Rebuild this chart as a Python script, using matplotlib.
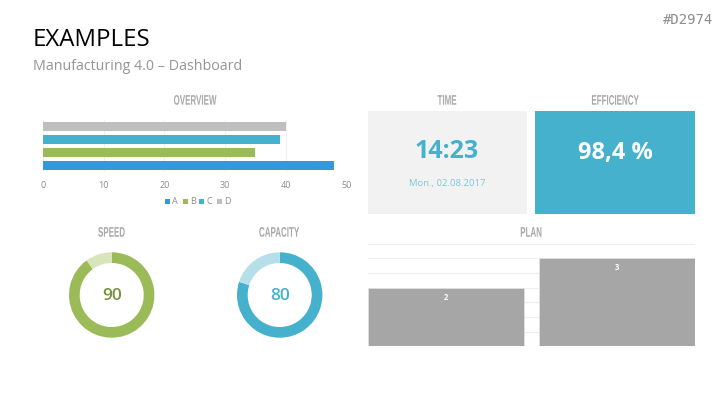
import matplotlib
matplotlib.use("Agg")
import matplotlib.pyplot as plt
from matplotlib.patches import Rectangle
from matplotlib.patheffects import AbstractPathEffect
from matplotlib.transforms import Affine2D

W, H = 727, 409
plt.rcParams['font.family'] = ['Open Sans', 'DejaVu Sans']

overview_labels = ['A', 'B', 'C', 'D']
overview_values = [48, 35, 39, 40]
overview_colors = ['#3498DB', '#9BBB59', '#45B1CD', '#BFBFBF']
overview_ticks = [0, 10, 20, 30, 40, 50]
plan_categories = ['P1', 'P2']
plan_values = [2, 3]
speed_values = [90, 10]
capacity_values = [80, 20]

fig = plt.figure(figsize=(W / 100, H / 100), dpi=100, facecolor='white')
px = Affine2D().scale(1 / W, -1 / H).translate(0, 1) + fig.transFigure


class Squeeze(AbstractPathEffect):
    """Condense a text horizontally around a centre given in pixels."""

    def __init__(self, cx, sx):
        super().__init__()
        self.cx, self.sx = cx, sx

    def draw_path(self, renderer, gc, tpath, affine, rgbFace=None):
        t = affine + Affine2D().translate(-self.cx, 0).scale(self.sx, 1).translate(self.cx, 0)
        renderer.draw_path(gc, tpath, t, rgbFace)


def axes_px(x0, y0, x1, y1):
    return fig.add_axes([x0 / W, 1 - y1 / H, (x1 - x0) / W, (y1 - y0) / H])


def text(x, y, s, **kw):
    kw.setdefault('ha', 'center')
    kw.setdefault('va', 'center')
    return fig.text(x, y, s, transform=px, **kw)


def box(x0, y0, x1, y1, color):
    fig.add_artist(Rectangle((x0, y0), x1 - x0, y1 - y0, transform=px, fc=color, ec='none'))


text(33, 40, 'EXAMPLES', ha='left', fontsize=17.3, color='black')
text(33, 66.5, 'Manufacturing 4.0 – Dashboard', ha='left', fontsize=10.3, color='#959595')
text(713, 20.5, '#D2974', ha='right', fontsize=10, color='#8C8C8C', family=['DejaVu Sans Mono'])

for x, y, s in [(195, 100.7, 'OVERVIEW'), (447, 100.7, 'TIME'), (615, 100.7, 'EFFICIENCY'),
                (111.5, 232.7, 'SPEED'), (279, 232.7, 'CAPACITY'), (531, 232.7, 'PLAN')]:
    t = text(x, y, s, fontsize=10, color='#A8A8A8', fontweight='bold', family=['Liberation Sans'])
    t.set_path_effects([Squeeze(x, 0.575)])

# Overview
ax = axes_px(43, 119.7, 346.5, 172.2)
ax.barh(range(4), overview_values, height=0.69, color=overview_colors, linewidth=0, zorder=3)
ax.set_xlim(0, 50)
ax.set_ylim(-0.5, 3.5)
ax.set_xticks(overview_ticks)
ax.set_yticks([])
ax.grid(axis='x', color='#F0F0F0', lw=0.7, zorder=0)
ax.tick_params(axis='x', length=0, labelsize=6.5, labelcolor='#8C8C8C', pad=6)
for s in ax.spines.values():
    s.set_visible(False)

lx = [167.7, 185.3, 201.7, 219.3]
for x, lab, c in zip(lx, overview_labels, overview_colors):
    box(x - 2.4, 199, x + 2.4, 203.7, c)
    text(x + 4.7, 201.3, lab, ha='left', fontsize=6.5, color='#8C8C8C')

# Time / efficiency
box(367.7, 111, 527, 214, '#F2F2F2')
box(535.3, 111, 695, 214, '#45B1CD')
text(447, 151.5, '14:23', fontsize=18, fontweight='bold', color='#45B1CD')
text(447.5, 183.7, 'Mon., 02.08.2017', fontsize=6.8, color='#7CC8DC')
text(615, 153, '98,4 %', fontsize=17, fontweight='bold', color='white')


# Donuts
def donut(cx, cy, r, values, c1, c2, label, lc):
    a = axes_px(cx - r, cy - r, cx + r, cy + r)
    a.pie(values, colors=[c1, c2], startangle=90, counterclock=False, radius=1,
          wedgeprops=dict(width=0.25, edgecolor='none'))
    a.set_xlim(-1, 1)
    a.set_ylim(-1, 1)
    text(cx, cy + 1, label, fontsize=12.5, fontweight='semibold', color=lc)


donut(111.7, 295, 42.7, speed_values, '#9BBB59', '#D8E4BC', str(speed_values[0]), '#76923C')
donut(279.7, 295, 42.7, capacity_values, '#45B1CD', '#B5E0EA', str(capacity_values[0]), '#45B1CD')

# Plan
ax = axes_px(367.7, 243.6, 695, 346.3)
ax.bar(range(2), plan_values, width=0.91, color='#A6A6A6', edgecolor='#E4E4E4', linewidth=0.5, zorder=3)
ax.set_xlim(-0.454, 1.454)
ax.set_ylim(0, 3.5)
ax.set_yticks([i * 0.5 for i in range(8)])
ax.set_xticks([])
ax.set_yticklabels([])
ax.tick_params(length=0)
ax.grid(axis='y', color='#EFEFEF', lw=0.8, zorder=0)
for s in ax.spines.values():
    s.set_visible(False)
for i, v in enumerate(plan_values):
    ax.annotate(str(v), (i, v), xytext=(0, -6.9), textcoords='offset points', ha='center', va='center',
                fontsize=5.5, fontweight='bold', color='white', zorder=4)

fig.savefig('out.png', dpi=100)
